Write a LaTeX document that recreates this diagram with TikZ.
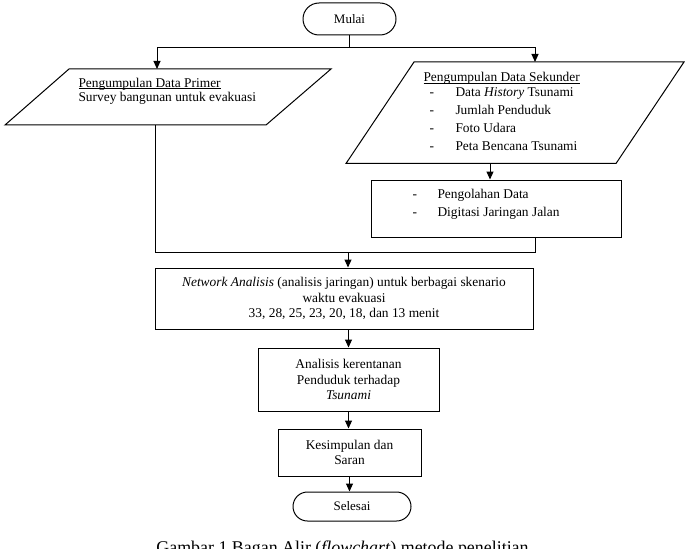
\documentclass[tikz,border=0pt]{standalone}
\usepackage{fontspec}
\setmainfont{Liberation Serif}
\usetikzlibrary{arrows.meta,calc}
\newcommand\myul[1]{\setbox0\hbox{#1}\rlap{\rule[-1.8pt]{\wd0}{0.7pt}}\box0}
\begin{document}
\begin{tikzpicture}[x=1pt,y=-1pt,line width=1pt,
  box/.style={draw,rectangle,inner sep=0pt,align=center,font=\fontsize{13.4}{15.2}\selectfont},
  term/.style={draw,rectangle,inner sep=0pt,font=\fontsize{13}{15}\selectfont},
  arr/.style={-{Triangle[length=8pt,width=7pt]}},
  txt/.style={font=\fontsize{13.4}{15}\selectfont,inner sep=0pt,anchor=base west}]
\useasboundingbox (0,0) rectangle (687,548);
\clip (0,0) rectangle (687,548);
% start
\node[term,rounded corners=16pt,minimum width=93pt,minimum height=32pt] (mulai) at (349.5,19) {Mulai};
% primary data parallelogram
\draw (69,69) -- (331,69) -- (266,125) -- (5,125) -- cycle;
\node[txt] (prim1) at (78,87.3) {\myul{Pengumpulan Data Primer}};
\node[txt] (prim2) at (78,101.5) {Survey bangunan untuk evakuasi};
\coordinate (primTop) at (157,69);
\coordinate (primBot) at (155,125);
% secondary data parallelogram
\draw (414,62) -- (684,62) -- (616,163.5) -- (346,163.5) -- cycle;
\node[txt] (sek0) at (423,81.7) {\myul{Pengumpulan Data Sekunder}};
\node[txt] (dsa) at (429,96.7) {-};
\node[txt] (sek1) at (455,96.7) {Data \textit{History} Tsunami};
\node[txt] (dsb) at (429,114.3) {-};
\node[txt] (sek2) at (455,114.3) {Jumlah Penduduk};
\node[txt] (dsc) at (429,132.3) {-};
\node[txt] (sek3) at (455,132.3) {Foto Udara};
\node[txt] (dsd) at (429,150) {-};
\node[txt] (sek4) at (455,150) {Peta Bencana Tsunami};
\coordinate (sekTop) at (535,62);
\coordinate (sekBot) at (490,163.5);
% processing box
\node[box,minimum width=250pt,minimum height=57pt] (olah) at (496,208.5) {};
\node[txt] (doa) at (412,198.3) {-};
\node[txt] (olah1) at (437,198.3) {Pengolahan Data};
\node[txt] (dob) at (412,216) {-};
\node[txt] (olah2) at (437,216) {Digitasi Jaringan Jalan};
\coordinate (olahOut) at (535,237);
% network analysis
\node[box,minimum width=378pt,minimum height=61pt] (net) at (344,298.5)
  {\textit{Network Analisis} (analisis jaringan) untuk berbagai skenario\\waktu evakuasi\\33, 28, 25, 23, 20, 18, dan 13 menit};
\node[box,minimum width=181pt,minimum height=63pt] (anal) at (348.5,379.5)
  {Analisis kerentanan\\Penduduk terhadap\\\textit{Tsunami}};
\node[box,minimum width=143pt,minimum height=47pt] (kes) at (349.5,452.5)
  {Kesimpulan dan\\Saran};
\node[term,rounded corners=14.5pt,minimum width=118pt,minimum height=29pt] (sel) at (352,506.5) {Selesai};
% connectors
\coordinate (split) at (349.5,48);
\coordinate (merge) at (348,252);
\draw (mulai.south) -- (split);
\draw[arr] (split) -| (primTop);
\draw[arr] (split) -| (sekTop);
\draw[arr] (sekBot) -- (sekBot |- olah.north);
\draw (primBot) |- (merge);
\draw (olahOut) |- (merge);
\draw[arr] (merge) -- (merge |- net.north);
\draw[arr] (anal.north |- net.south) -- (anal.north);
\draw[arr] (anal.south) -- (anal.south |- kes.north);
\draw[arr] (kes.south) -- (kes.south |- sel.north);
% caption (cut off at the lower edge, as in the reference)
\node[font=\fontsize{17.9}{20}\selectfont,anchor=base,inner sep=0pt] (cap) at (342.5,553)
  {Gambar 1 Bagan Alir (\textit{flowchart}) metode penelitian};
\end{tikzpicture}
\end{document}
